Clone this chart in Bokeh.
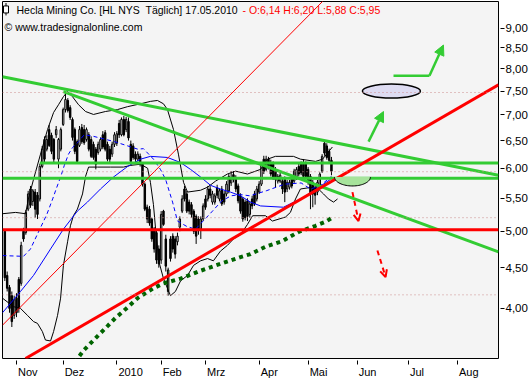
import numpy as np
from bokeh.plotting import figure
from bokeh.models import Range1d, FixedTicker, Span, Label, Arrow, NormalHead, OpenHead, ColumnDataSource
from bokeh.embed import file_html
from bokeh.resources import INLINE

# ---------------- data ----------------
tick_idx = [5, 25, 48, 67, 86, 109, 130, 151, 173, 194]
tick_labels = ["Nov", "Dez", "2010", "Feb", "Mrz", "Apr", "Mai", "Jun", "Jul", "Aug"]
y_ticks = [4.0, 4.5, 5.0, 5.5, 6.0, 6.5, 7.0, 7.5, 8.0, 8.5, 9.0]

opens = [5.00, 4.40, 4.25, 4.15, 3.92, 4.12, 4.35, 4.30, 5.00, 4.98,
         5.33, 5.65, 5.45, 5.60, 5.55, 5.49, 6.03, 6.52, 6.34, 6.71,
         6.60, 6.52, 6.61, 6.16, 6.34, 6.81, 7.11, 7.30, 7.15, 6.91,
         6.71, 6.48, 6.41, 6.75, 6.71, 6.52, 6.61, 6.52, 6.43, 6.34,
         6.28, 6.34, 6.61, 6.65, 6.43, 6.34, 6.25, 6.43, 6.45, 6.83,
         6.61, 6.91, 6.71, 6.87, 6.43, 6.40, 6.25, 6.16, 6.21, 6.07,
         5.73, 5.36, 5.33, 5.18, 5.03, 4.98, 4.75, 4.60, 5.30, 4.89,
         4.20, 4.89, 4.93, 4.89, 4.85, 5.06, 5.30, 5.65, 5.57, 5.44,
         5.40, 5.30, 5.22, 5.18, 5.03, 5.18, 5.49, 5.49, 5.65, 5.44,
         5.44, 5.67, 5.49, 5.65, 5.57, 5.57, 5.62, 5.75, 5.89, 5.84,
         5.70, 5.54, 5.49, 5.44, 5.46, 5.25, 5.49, 5.57, 5.49, 5.60,
         5.73, 6.16, 5.98, 6.16, 6.10, 6.07, 5.98, 5.78, 5.78, 5.78,
         5.81, 5.65, 5.68, 5.84, 5.78, 5.84, 6.03, 6.07, 6.10, 6.07,
         5.98, 5.86, 5.76, 5.68, 5.60, 5.70, 5.95, 6.45, 6.40, 6.30,
         6.14]
highs = [5.03, 4.45, 4.28, 4.20, 4.15, 4.18, 4.38, 4.85, 5.05, 5.32,
         5.62, 5.70, 5.65, 5.65, 5.60, 6.08, 6.40, 6.58, 6.60, 6.80,
         6.65, 6.55, 6.78, 6.55, 6.75, 7.15, 7.47, 7.35, 7.20, 6.95,
         6.75, 6.52, 6.78, 6.82, 6.80, 6.75, 6.66, 6.58, 6.48, 6.38,
         6.48, 6.56, 6.68, 6.70, 6.48, 6.40, 6.48, 6.66, 6.68, 6.90,
         6.95, 6.98, 6.96, 6.95, 6.50, 6.45, 6.30, 6.30, 6.26, 6.10,
         5.76, 5.40, 5.38, 5.20, 5.06, 5.02, 4.80, 5.30, 5.32, 4.95,
         4.50, 4.93, 4.97, 4.93, 4.98, 5.22, 5.55, 5.70, 5.62, 5.48,
         5.44, 5.33, 5.25, 5.22, 5.22, 5.42, 5.55, 5.70, 5.70, 5.62,
         5.58, 5.72, 5.66, 5.70, 5.62, 5.78, 5.90, 5.95, 5.95, 5.88,
         5.74, 5.58, 5.52, 5.48, 5.50, 5.45, 5.54, 5.62, 5.70, 5.78,
         6.10, 6.22, 6.22, 6.20, 6.15, 6.12, 6.02, 5.90, 5.92, 5.82,
         5.86, 5.80, 5.80, 5.88, 5.99, 6.02, 6.08, 6.12, 6.16, 6.12,
         6.02, 5.90, 5.80, 5.72, 5.80, 5.93, 6.25, 6.48, 6.45, 6.35,
         6.20]
lows = [4.33, 4.20, 3.95, 3.79, 3.88, 3.90, 3.95, 4.27, 4.85, 4.95,
        5.30, 5.35, 5.38, 5.20, 5.18, 5.45, 6.00, 6.10, 6.30, 6.38,
        6.25, 6.10, 6.55, 6.00, 6.30, 6.78, 7.05, 7.05, 6.90, 6.50,
        6.25, 6.08, 6.38, 6.44, 6.42, 6.48, 6.30, 6.18, 6.15, 5.98,
        6.24, 6.30, 6.34, 6.30, 6.12, 6.10, 6.20, 6.38, 6.40, 6.55,
        6.58, 6.58, 6.66, 6.50, 6.05, 6.15, 6.10, 6.12, 6.03, 5.69,
        5.30, 5.12, 5.08, 4.85, 4.70, 4.55, 4.50, 4.55, 5.08, 4.45,
        4.15, 4.58, 4.70, 4.62, 4.80, 5.00, 5.27, 5.45, 5.27, 5.25,
        5.20, 4.96, 4.82, 4.95, 4.89, 5.15, 5.32, 5.45, 5.50, 5.40,
        5.40, 5.50, 5.45, 5.38, 5.40, 5.53, 5.58, 5.70, 5.76, 5.60,
        5.42, 5.26, 5.14, 5.16, 5.15, 5.20, 5.33, 5.38, 5.45, 5.57,
        5.70, 5.90, 5.95, 5.98, 5.86, 5.80, 5.67, 5.74, 5.75, 5.57,
        5.44, 5.60, 5.64, 5.66, 5.75, 5.80, 5.86, 5.88, 5.82, 5.82,
        5.72, 5.33, 5.36, 5.40, 5.55, 5.66, 5.92, 6.22, 6.15, 6.10,
        5.88]
closes = [4.37, 4.24, 4.00, 3.85, 4.10, 3.95, 4.00, 4.80, 4.89, 5.28,
          5.57, 5.39, 5.62, 5.33, 5.25, 6.03, 6.34, 6.16, 6.52, 6.41,
          6.30, 6.16, 6.71, 6.52, 6.71, 7.11, 7.32, 7.09, 6.95, 6.56,
          6.30, 6.12, 6.71, 6.48, 6.46, 6.71, 6.34, 6.21, 6.19, 6.07,
          6.43, 6.52, 6.38, 6.34, 6.16, 6.16, 6.43, 6.61, 6.63, 6.61,
          6.91, 6.61, 6.91, 6.55, 6.12, 6.19, 6.16, 6.25, 6.07, 5.73,
          5.33, 5.18, 5.12, 4.89, 4.75, 4.60, 4.55, 5.25, 5.10, 4.52,
          4.47, 4.62, 4.75, 4.68, 4.93, 5.18, 5.49, 5.49, 5.30, 5.30,
          5.25, 5.00, 4.93, 5.03, 5.18, 5.38, 5.36, 5.65, 5.55, 5.57,
          5.54, 5.55, 5.62, 5.41, 5.44, 5.73, 5.86, 5.84, 5.81, 5.65,
          5.46, 5.30, 5.18, 5.20, 5.22, 5.41, 5.38, 5.41, 5.65, 5.73,
          6.07, 5.95, 6.16, 6.02, 5.90, 5.84, 5.81, 5.86, 5.88, 5.65,
          5.60, 5.76, 5.76, 5.70, 5.95, 5.98, 5.90, 5.92, 5.86, 5.86,
          5.76, 5.57, 5.57, 5.55, 5.76, 5.90, 6.21, 6.27, 6.19, 6.14,
          5.95]
highlight_idx = 70

ma20_idx = [-1, 8, 11, 14, 18, 20.5, 22, 24, 25.5, 27.3, 29, 31.6, 34, 38, 47, 57, 59.4,
            63.7, 66.7, 68.9, 71.9, 74, 78, 81.7, 85, 89, 93, 97, 101, 105, 112, 120, 127,
            131, 135, 140]
ma20_val = [4.66, 4.65, 4.75, 4.96, 5.25, 5.49, 5.65, 5.86, 6.05, 6.25, 6.37, 6.48, 6.61,
            6.58, 6.48, 6.34, 6.35, 6.16, 5.98, 5.81, 5.44, 5.15, 5.07, 5.03, 5.15, 5.30,
            5.46, 5.54, 5.56, 5.54, 5.62, 5.73, 5.75, 5.65, 5.70, 5.86]

ma50_idx = [-1, 6.7, 12.3, 19.6, 25.1, 31.1, 35.4, 41, 46.6, 52.6, 58.2, 62.4, 69.7, 75.3,
            79.6, 83.9, 88.2, 92.4, 96.7, 101, 105.3, 109.6, 119.4, 126.7, 132.3, 139.6]
ma50_val = [3.95, 4.20, 4.40, 4.75, 5.03, 5.30, 5.44, 5.65, 5.85, 6.03, 6.16, 6.21, 6.19,
            6.10, 5.98, 5.85, 5.71, 5.65, 5.60, 5.54, 5.44, 5.38, 5.36, 5.49, 5.62, 5.81]

ma200_idx = [30, 31.2, 33.7, 38.9, 44, 47.4, 50.9, 56.9, 63.7, 68, 75.3, 83.9, 92.4, 101,
             105.3, 111.7, 119, 125.9, 133.2, 137.5, 140.4]
ma200_val = [3.42, 3.46, 3.54, 3.67, 3.80, 3.89, 3.97, 4.12, 4.24, 4.30, 4.36, 4.46, 4.55,
             4.64, 4.68, 4.78, 4.86, 4.99, 5.08, 5.14, 5.20]

bb_upper_idx = [-1, 4.6, 8.9, 10.1, 12.3, 15.3, 18.3, 20.9, 23, 25.1, 26.9, 29, 31.6, 34.6,
                38, 43.1, 48.3, 52.6, 58.2, 62.4, 65.4, 68, 69.7, 72.3, 74.4, 76.6, 78.3,
                83.9, 86.9, 90.3, 95.4, 98.9, 104, 109.6, 112.6, 116, 123.7, 126.7, 133.2,
                136.2, 140.4]
bb_upper_val = [5.26, 5.28, 5.26, 5.49, 5.81, 6.25, 6.71, 7.05, 7.21, 7.38, 7.49, 7.38,
                7.21, 7.07, 7.01, 7.07, 7.11, 7.17, 7.23, 7.28, 7.30, 7.23, 7.11, 6.71,
                6.25, 5.76, 5.60, 5.63, 5.68, 5.78, 5.90, 5.95, 5.90, 5.98, 6.16, 6.21,
                6.21, 6.16, 6.12, 6.16, 6.38]

bb_lower_idx = [-1, 3.7, 6.7, 9.7, 12.3, 14, 16.1, 17.4, 19.6, 20.9, 22.6, 23.9, 25.1, 26.9,
                28.1, 29.4, 31.1, 33.3, 34.6, 35.9, 39.7, 45.3, 50.9, 53.9, 58.2, 61.2,
                62.4, 63.7, 65, 66.3, 68, 71, 73.1, 75.3, 78.3, 80.9, 83.9, 86.9, 89.4,
                92.4, 95.4, 98, 101, 104, 106.2, 111.7, 114.7, 120.3, 122.4, 124.6,
                126.7, 131.9, 134.4, 136.6, 138.7, 140.9, 142.6]
bb_lower_val = [4.12, 4.02, 4.00, 3.92, 3.85, 3.83, 3.74, 3.65, 3.64, 3.74, 3.92, 4.12,
                4.53, 4.85, 5.08, 5.23, 5.33, 5.57, 5.86, 6.02, 6.02, 6.02, 6.02, 6.05,
                6.07, 6.00, 5.76, 5.40, 4.89, 4.55, 4.36, 4.15, 4.20, 4.33, 4.40, 4.53,
                4.59, 4.62, 4.59, 4.72, 4.80, 4.89, 4.95, 5.10, 5.23, 5.23, 5.15, 5.21,
                5.28, 5.49, 5.65, 5.68, 5.65, 5.57, 5.49, 5.44, 5.49]

fib_levels = [7.47, 5.94, 5.20, 4.16]

green_upper_x = [-1, 211.6]
green_upper_y = [7.82, 5.88]
green_lower_x = [25.1, 211.6]
green_lower_y = [7.49, 4.71]
green_level_high = 6.09
green_level_high_start = 15
green_level_low = 5.83
red_level = 5.02
red_trend_x = [8.86, 211.6]
red_trend_y = [3.46, 7.64]
red_thin_x = [-1, 140.9]
red_thin_y = [3.81, 10.04]

up_arrow1 = (155.9, 6.48, 162.3, 7.07)
up_path_x = [166.6, 182.0]
up_path_y = [7.84, 7.84]
up_arrow2 = (182.0, 7.84, 188.0, 8.57)
down_arrow1 = (149.0, 5.60, 151.6, 5.15)
down_arrow2 = (159.7, 4.73, 163.2, 4.38)
target_ellipse = (165.7, 7.50)
bowl_center = (149.0, 5.85)
bowl_half_width = 7.7
bowl_bottom = 5.70

X_START, X_END = -1, 211.6
Y_START, Y_END = 3.46, 9.72

# ---------------- layout constants ----------------
W, H = 531, 380
BORDER_L, BORDER_T, BORDER_R, BORDER_B = 2, 1, 33, 20
FRAME_W = W - BORDER_L - BORDER_R
FRAME_H = H - BORDER_T - BORDER_B
PX_PER_IDX = FRAME_W / (X_END - X_START)
PX_PER_LN = FRAME_H / np.log(Y_END / Y_START)
label_half_w_px = [9.8, 9.8, 12.3, 9.5, 9.2, 8.6, 8.9, 8.9, 7.0, 9.8]
label_pos = [round(t + (hw + 1.5) / PX_PER_IDX, 3) for t, hw in zip(tick_idx, label_half_w_px)]

FONT = "Liberation Sans"

p = figure(width=W, height=H, x_range=Range1d(X_START, X_END), y_range=Range1d(Y_START, Y_END),
           y_axis_type="log", y_axis_location="right", output_backend="svg", toolbar_location=None,
           min_border_left=BORDER_L, min_border_top=BORDER_T,
           min_border_right=BORDER_R, min_border_bottom=BORDER_B,
           background_fill_color="#f4f4f4", border_fill_color="white")
p.outline_line_color = "black"
p.outline_line_width = 1
p.xgrid.visible = False
p.ygrid.visible = False

xa = p.xaxis[0]
xa.axis_label = None
xa.ticker = FixedTicker(ticks=label_pos, minor_ticks=tick_idx)
xa.major_label_overrides = {t: l for t, l in zip(label_pos, tick_labels)}
xa.major_tick_in = 0
xa.major_tick_out = 0
xa.minor_tick_in = -2
xa.minor_tick_out = 6
xa.minor_tick_line_color = "black"
xa.axis_line_color = None
xa.major_label_text_font = FONT
xa.major_label_text_font_size = "11px"
xa.major_label_text_color = "black"
xa.major_label_standoff = 1

ya = p.yaxis[0]
ya.axis_label = None
ya.ticker = FixedTicker(ticks=y_ticks, minor_ticks=[])
ya.major_label_overrides = {v: f"{v:.2f}".replace(".", ",") for v in y_ticks}
ya.major_tick_in = -2
ya.major_tick_out = 6
ya.minor_tick_out = 0
ya.axis_line_color = None
ya.major_label_text_font = FONT
ya.major_label_text_font_size = "11.5px"
ya.major_label_text_color = "black"
ya.major_label_standoff = 1

for lv in fib_levels:
    p.add_layout(Span(location=lv, dimension="width", line_color="#cc8c8c",
                      line_dash="1 3", line_width=1))

# candles
n = len(closes)
idx = list(range(n))
fills = []
for i in range(n):
    if i == highlight_idx:
        fills.append("#9ed68f")
    elif closes[i] >= opens[i]:
        fills.append("white")
    else:
        fills.append("black")
src = ColumnDataSource(dict(x=idx, o=opens, h=highs, l=lows, c=closes,
                            top=[max(a, b) for a, b in zip(opens, closes)],
                            bot=[min(a, b) for a, b in zip(opens, closes)],
                            fill=fills))
p.segment(x0="x", y0="l", x1="x", y1="h", source=src, line_color="black", line_width=1)
p.vbar(x="x", width=0.62, top="top", bottom="bot", source=src, fill_color="fill",
       line_color="black", line_width=1)

# bands and averages
p.line(bb_upper_idx, bb_upper_val, line_color="black", line_width=1)
p.line(bb_lower_idx, bb_lower_val, line_color="black", line_width=1)
p.line(ma50_idx, ma50_val, line_color="#0000ff", line_width=1)
p.line(ma20_idx, ma20_val, line_color="#0000ff", line_width=1, line_dash="4 3")
p.line(ma200_idx, ma200_val, line_color="#006400", line_width=4, line_dash="4 4")

# trend lines
GREEN = "#33cc33"
p.line(green_upper_x, green_upper_y, line_color=GREEN, line_width=3)
p.line(green_lower_x, green_lower_y, line_color=GREEN, line_width=3)
p.line([green_level_high_start, X_END], [green_level_high] * 2, line_color=GREEN, line_width=3)
p.line([X_START, X_END], [green_level_low] * 2, line_color=GREEN, line_width=3)
p.line([X_START, X_END], [red_level] * 2, line_color="#ff0000", line_width=3)
p.line(red_trend_x, red_trend_y, line_color="#ff0000", line_width=3)
p.line(red_thin_x, red_thin_y, line_color="#ff0000", line_width=1)

# bowl shape
t = np.linspace(0, np.pi, 40)
bx = bowl_center[0] + bowl_half_width * np.cos(t)
by = np.exp(np.log(bowl_center[1]) + (np.log(bowl_bottom) - np.log(bowl_center[1])) * np.sin(t))
p.patch(list(bx), list(by), fill_color="#a6e39b", line_color=None)
p.line(list(bx), list(by), line_color="black", line_width=1)

# target ellipse
p.ellipse(x=[target_ellipse[0]], y=[target_ellipse[1]], width=58, height=14,
          width_units="screen", height_units="screen",
          fill_color="#dedcf2", line_color="black", line_width=1.5)

def add_arrow(a, color, dash=None, head=None, width=2.5):
    kw = dict(x_start=a[0], y_start=a[1], x_end=a[2], y_end=a[3],
              line_color=color, line_width=width, end=head)
    if dash:
        kw["line_dash"] = dash
    p.add_layout(Arrow(**kw))

add_arrow(up_arrow1, GREEN, head=NormalHead(size=10, fill_color=GREEN, line_color=GREEN))
p.line(up_path_x, up_path_y, line_color=GREEN, line_width=2.5)
add_arrow(up_arrow2, GREEN, head=NormalHead(size=10, fill_color=GREEN, line_color=GREEN))
add_arrow(down_arrow1, "#ff0000", dash="5 4", width=2,
          head=OpenHead(size=7, line_color="#ff0000", line_width=2))
add_arrow(down_arrow2, "#ff0000", dash="5 4", width=2,
          head=OpenHead(size=7, line_color="#ff0000", line_width=2))

# small candle icon before the title (placed in pixels from the frame's top-left corner)
icon_x = X_START + 3.5 / PX_PER_IDX
icon_top = float(np.exp(np.log(Y_END) - 1.5 / PX_PER_LN))
icon_bot = float(np.exp(np.log(Y_END) - 14.0 / PX_PER_LN))
icon_mid = float(np.exp(np.log(Y_END) - 8.0 / PX_PER_LN))
p.segment(x0=[icon_x], y0=[icon_bot], x1=[icon_x], y1=[icon_top], line_color="black", line_width=1)
p.rect(x=[icon_x], y=[icon_mid], width=5, height=7, width_units="screen", height_units="screen",
       fill_color="white", line_color="black", line_width=1)

# texts
p.add_layout(Label(x=X_START, y=Y_END, x_offset=14, y_offset=-2, text_baseline="top",
                   text="Hecla Mining Co. [HL NYS\u00a0 Täglich] 17.05.2010",
                   text_font=FONT, text_font_size="10.5px", text_color="black"))
p.add_layout(Label(x=X_START, y=Y_END, x_offset=240, y_offset=-2, text_baseline="top",
                   text="- O:6,14 H:6,20 L:5,88 C:5,95",
                   text_font=FONT, text_font_size="10.5px", text_color="#ff0000"))
p.add_layout(Label(x=X_START, y=Y_END, x_offset=2, y_offset=-19, text_baseline="top",
                   text="© www.tradesignalonline.com",
                   text_font=FONT, text_font_size="10.5px", text_color="black"))
p.add_layout(Label(x=X_END, y=Y_END, x_offset=5, y_offset=-3, text_baseline="top",
                   text="$", text_font=FONT, text_font_size="11.5px", text_color="black"))

open("out.html", "w").write(file_html(p, INLINE))
